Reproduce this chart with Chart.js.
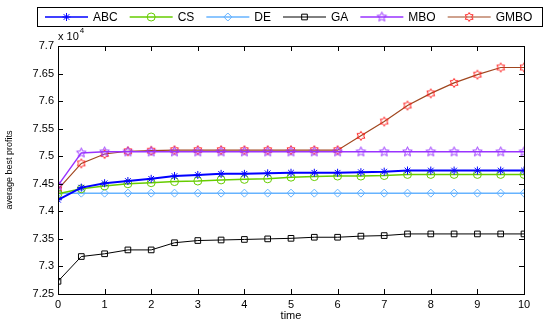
<!DOCTYPE html>
<html>
<head>
<meta charset="utf-8">
<script src="https://cdn.jsdelivr.net/npm/chart.js@4.4.1/dist/chart.umd.min.js"></script>
<style>
  html, body { margin: 0; padding: 0; background: #fff; }
  #wrap { width: 550px; height: 326px; position: relative; }
</style>
</head>
<body>
<div id="wrap"><canvas id="chart"></canvas></div>
<script>
// time axis (marker every 0.5)
const timeSteps = [0, 0.5, 1, 1.5, 2, 2.5, 3, 3.5, 4, 4.5, 5, 5.5, 6, 6.5, 7, 7.5, 8, 8.5, 9, 9.5, 10];

// average best profits, x 10^4
const abcValues  = [7.421, 7.443, 7.451, 7.455, 7.459, 7.464, 7.466, 7.468, 7.468, 7.469, 7.470, 7.470, 7.470, 7.471, 7.472, 7.474, 7.474, 7.474, 7.474, 7.474, 7.474];
const csValues   = [7.432, 7.441, 7.446, 7.450, 7.452, 7.454, 7.455, 7.457, 7.458, 7.459, 7.462, 7.463, 7.464, 7.464, 7.465, 7.467, 7.467, 7.467, 7.467, 7.467, 7.467];
const deValues   = [7.433, 7.433, 7.433, 7.433, 7.433, 7.433, 7.433, 7.433, 7.433, 7.433, 7.433, 7.433, 7.433, 7.433, 7.433, 7.433, 7.433, 7.433, 7.433, 7.433, 7.433];
const gaValues   = [7.273, 7.318, 7.323, 7.330, 7.330, 7.343, 7.347, 7.348, 7.349, 7.350, 7.351, 7.353, 7.353, 7.355, 7.356, 7.359, 7.359, 7.359, 7.359, 7.359, 7.359];
const mboValues  = [7.447, 7.506, 7.508, 7.508, 7.508, 7.508, 7.508, 7.508, 7.508, 7.508, 7.508, 7.508, 7.508, 7.508, 7.508, 7.508, 7.508, 7.508, 7.508, 7.508, 7.508];
const gmboValues = [7.440, 7.487, 7.504, 7.509, 7.510, 7.511, 7.511, 7.511, 7.511, 7.511, 7.511, 7.511, 7.511, 7.537, 7.563, 7.592, 7.614, 7.633, 7.648, 7.661, 7.661];

const seriesNames = ['ABC', 'CS', 'DE', 'GA', 'MBO', 'GMBO'];
const xTickLabels = ['0', '1', '2', '3', '4', '5', '6', '7', '8', '9', '10'];
const yTickLabels = ['7.25', '7.3', '7.35', '7.4', '7.45', '7.5', '7.55', '7.6', '7.65', '7.7'];

const FONT = '"Liberation Sans", Arial, sans-serif';

// star-shaped marker drawn into a small canvas (pentagram / hexagram)
function starMarker ( spikes, color, r, inner )
{
    const size = r * 2 + 3;
    const c = document.createElement( 'canvas' );
    c.width = size; c.height = size;
    const g = c.getContext( '2d' );
    const cx = size / 2, cy = size / 2;
    g.beginPath();
    for ( let i = 0; i < spikes * 2; i++ )
    {
        const rad = i % 2 === 0 ? r : r * inner;
        const a = -Math.PI / 2 + i * Math.PI / spikes;
        const px = cx + rad * Math.cos( a ), py = cy + rad * Math.sin( a );
        if ( i === 0 ) g.moveTo( px, py ); else g.lineTo( px, py );
    }
    g.closePath();
    g.strokeStyle = color;
    g.lineWidth = 1;
    g.stroke();
    return c;
}

const pentagram = starMarker( 5, '#9933ff', 5, 0.45 );
const hexagram = starMarker( 6, '#ff2020', 4.5, 0.6 );

function pts ( values )
{
    return values.map( ( v, i ) => ( { x: timeSteps[ i ], y: v } ) );
}

function series ( label, values, color, style, width, radius, pointColor )
{
    return {
        label,
        data: pts( values ),
        borderColor: color,
        borderWidth: width,
        pointStyle: style,
        pointRadius: radius,
        pointBorderColor: pointColor || color,
        pointBackgroundColor: 'rgba(0,0,0,0)',
        pointBorderWidth: 1,
        tension: 0
    };
}

const datasets = [
    series( seriesNames[ 0 ], abcValues, '#0000ff', 'star', 2, 4 ),
    series( seriesNames[ 1 ], csValues, '#66cc00', 'circle', 1.5, 4 ),
    series( seriesNames[ 2 ], deValues, '#66b3ff', 'rectRot', 1.5, 4 ),
    series( seriesNames[ 3 ], gaValues, '#000000', 'rect', 1, 4 ),
    series( seriesNames[ 4 ], mboValues, '#9933ff', pentagram, 1.5, 5 ),
    series( seriesNames[ 5 ], gmboValues, '#a0461e', hexagram, 1.2, 5, '#ff2020' )
];

// box, inward ticks, exponent label and boxed legend, MATLAB style
const matlabFrame = {
    id: 'matlabFrame',
    afterDraw ( chart )
    {
        const { ctx, chartArea: a, scales } = chart;
        ctx.save();
        ctx.strokeStyle = '#000';
        ctx.lineWidth = 1;
        ctx.strokeRect( Math.round( a.left ) + 0.5, Math.round( a.top ) + 0.5,
            Math.round( a.right - a.left ), Math.round( a.bottom - a.top ) );
        ctx.beginPath();
        scales.x.ticks.forEach( t =>
        {
            const px = Math.round( scales.x.getPixelForValue( t.value ) ) + 0.5;
            ctx.moveTo( px, a.bottom ); ctx.lineTo( px, a.bottom - 5 );
            ctx.moveTo( px, a.top ); ctx.lineTo( px, a.top + 5 );
        } );
        scales.y.ticks.forEach( t =>
        {
            const py = Math.round( scales.y.getPixelForValue( t.value ) ) + 0.5;
            ctx.moveTo( a.left, py ); ctx.lineTo( a.left + 5, py );
            ctx.moveTo( a.right, py ); ctx.lineTo( a.right - 5, py );
        } );
        ctx.stroke();

        // exponent
        ctx.fillStyle = '#000';
        ctx.textBaseline = 'middle';
        ctx.font = '11px ' + FONT;
        ctx.fillText( 'x 10', a.left, a.top - 9 );
        const w = ctx.measureText( 'x 10' ).width;
        ctx.font = '8px ' + FONT;
        ctx.fillText( '4', a.left + w + 1, a.top - 15 );

        // legend
        const lx = 37, ly = 7, lw = 505, lh = 19;
        ctx.fillStyle = '#fff';
        ctx.fillRect( lx, ly, lw, lh );
        ctx.strokeRect( lx + 0.5, ly + 0.5, lw, lh );
        ctx.font = '12px ' + FONT;
        const cy = ly + lh / 2 + 0.5;
        let x = 45;
        chart.data.datasets.forEach( ds =>
        {
            ctx.strokeStyle = ds.borderColor;
            ctx.lineWidth = Math.min( ds.borderWidth, 1.5 );
            ctx.beginPath();
            ctx.moveTo( x, cy ); ctx.lineTo( x + 43, cy );
            ctx.stroke();
            ctx.strokeStyle = ds.pointBorderColor;
            ctx.fillStyle = 'rgba(0,0,0,0)';
            ctx.lineWidth = 1;
            Chart.helpers.drawPoint( ctx, {
                pointStyle: ds.pointStyle,
                radius: ds.pointRadius,
                borderWidth: 1,
                rotation: 0
            }, x + 21.5, cy );
            ctx.fillStyle = '#000';
            ctx.textBaseline = 'middle';
            ctx.fillText( ds.label, x + 48, cy + 1 );
            x += 48 + ctx.measureText( ds.label ).width + 12;
        } );
        ctx.restore();
    }
};

new Chart( document.getElementById( 'chart' ), {
    type: 'line',
    data: { datasets },
    options: {
        responsive: true,
        maintainAspectRatio: false,
        animation: false,
        layout: { padding: { top: 46, right: 26, left: 0, bottom: 0 } },
        plugins: {
            legend: { display: false },
            tooltip: { enabled: false }
        },
        scales: {
            x: {
                type: 'linear',
                min: 0,
                max: 10,
                grid: { display: false, drawTicks: false, tickLength: 0 },
                border: { display: false },
                ticks: {
                    stepSize: 1,
                    color: '#000',
                    padding: 4,
                    maxRotation: 0,
                    font: { family: FONT, size: 11 },
                    callback: ( v, i ) => xTickLabels[ i ]
                },
                title: {
                    display: true,
                    text: 'time',
                    color: '#000',
                    padding: { top: 0, bottom: 3 },
                    font: { family: FONT, size: 11 }
                },
                afterFit: s => { s.height = 32; }
            },
            y: {
                min: 7.25,
                max: 7.7,
                grid: { display: false, drawTicks: false, tickLength: 0 },
                border: { display: false },
                ticks: {
                    stepSize: 0.05,
                    color: '#000',
                    padding: 4,
                    font: { family: FONT, size: 11 },
                    callback: ( v, i ) => yTickLabels[ i ]
                },
                title: {
                    display: true,
                    text: 'average best profits',
                    color: '#000',
                    padding: { top: 4, bottom: 0 },
                    font: { family: FONT, size: 9 }
                },
                afterFit: s => { s.width = 58; }
            }
        }
    },
    plugins: [ matlabFrame ]
} );
</script>
</body>
</html>
